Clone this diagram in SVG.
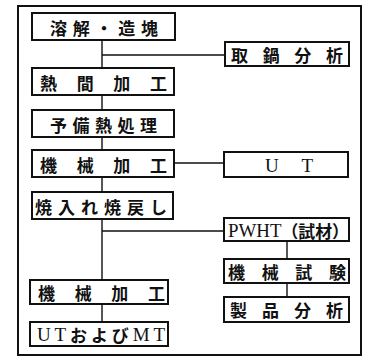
<svg xmlns="http://www.w3.org/2000/svg" width="367" height="359" viewBox="0 0 367 359">
<style>
.box{fill:#fff;stroke:#111;stroke-width:2}
.frame{fill:none;stroke:#111;stroke-width:2}
.c{fill:none;stroke:#111;stroke-width:1.4}
text{font-family:"Noto Sans CJK JP","Noto Sans CJK SC",sans-serif;font-size:17px;font-weight:700;fill:#111;dominant-baseline:central}
.lat{font-family:"Liberation Serif",serif;font-weight:400;font-size:19px}
</style>
<rect width="367" height="359" fill="#fff"/>
<rect class="frame" x="18" y="6" width="343" height="349"/>
<g id="connectors">
<path class="c" d="M102 40V68M102 95V110M102 137V150M102 177V192M102 219V280M102 304V322"/>
<path class="c" d="M102 55H225M174 163H224M102 231H224M287 241V259M287 283V297"/>
</g>
<g id="n1"><rect class="box" x="32" y="13" width="143" height="27"/><text x="50" y="27" textLength="108" lengthAdjust="spacing">溶解・造塊</text></g>
<g id="n2"><rect class="box" x="225" y="42" width="124" height="24"/><text x="231" y="54" textLength="112" lengthAdjust="spacing">取鍋分析</text></g>
<g id="n3"><rect class="box" x="32" y="68" width="142" height="27"/><text x="40" y="82" textLength="127" lengthAdjust="spacing">熱間加工</text></g>
<g id="n4"><rect class="box" x="32" y="110" width="142" height="27"/><text x="50" y="124" textLength="107" lengthAdjust="spacing">予備熱処理</text></g>
<g id="n5"><rect class="box" x="32" y="150" width="142" height="27"/><text x="40" y="164" textLength="127" lengthAdjust="spacing">機械加工</text></g>
<g id="n6"><rect class="box" x="224" y="152" width="124" height="25"/><text class="lat" x="265" y="165" textLength="48" lengthAdjust="spacing">UT</text></g>
<g id="n7"><rect class="box" x="32" y="192" width="141" height="27"/><text x="35" y="206" textLength="132" lengthAdjust="spacing">焼入れ焼戻し</text></g>
<g id="n8"><rect class="box" x="224" y="218" width="125" height="23"/><text x="228" y="230" textLength="121" lengthAdjust="spacingAndGlyphs"><tspan class="lat">PWHT</tspan>（試材）</text></g>
<g id="n9"><rect class="box" x="224" y="259" width="125" height="24"/><text x="228" y="271" textLength="118" lengthAdjust="spacing">機械試験</text></g>
<g id="n10"><rect class="box" x="224" y="297" width="125" height="25"/><text x="230" y="309" textLength="113" lengthAdjust="spacing">製品分析</text></g>
<g id="n11"><rect class="box" x="30" y="280" width="138" height="24"/><text x="38" y="292" textLength="127" lengthAdjust="spacing">機械加工</text></g>
<g id="n12"><rect class="box" x="30" y="322" width="138" height="24"/><text x="37" y="334" textLength="128" lengthAdjust="spacing"><tspan class="lat">UT</tspan>および<tspan class="lat">MT</tspan></text></g>
</svg>
